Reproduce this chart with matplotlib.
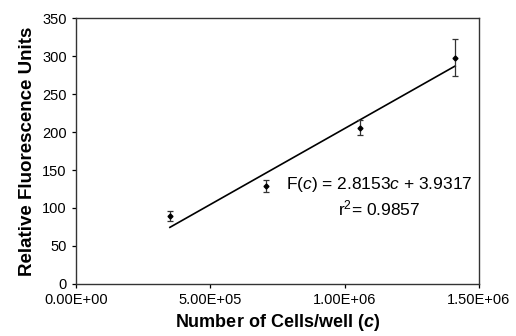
import matplotlib
matplotlib.use("Agg")
import matplotlib.pyplot as plt

cells = [3.50e5, 7.07e5, 1.056e6, 1.412e6]
rfu = [89.5, 129, 205.5, 298]
rfu_err = [6, 8, 10, 24]

# linear trendline endpoints
trend_x = [3.50e5, 1.412e6]
trend_y = [74.5, 287]

xticks = [0, 5e5, 1e6, 1.5e6]
xtick_labels = ["0.00E+00", "5.00E+05", "1.00E+06", "1.50E+06"]
yticks = [0, 50, 100, 150, 200, 250, 300, 350]

plt.rcParams['font.family'] = ['Liberation Sans', 'DejaVu Sans']
plt.rcParams['mathtext.fontset'] = 'custom'
plt.rcParams['mathtext.rm'] = 'Liberation Sans'
plt.rcParams['mathtext.it'] = 'Liberation Sans:italic'
plt.rcParams['mathtext.bf'] = 'Liberation Sans:bold'
plt.rcParams['mathtext.bfit'] = 'Liberation Sans:bold:italic'

fig = plt.figure(figsize=(5.16, 3.36), dpi=100)
ax = fig.add_axes([0.147, 0.155, 0.781, 0.791])

ax.plot(trend_x, trend_y, color='black', linewidth=1.2)
ax.errorbar(cells, rfu, yerr=rfu_err, fmt='D', color='black', markersize=2.5,
            ecolor='#333333', elinewidth=0.9, capsize=2.5, capthick=0.9)

ax.set_xlim(0, 1.5e6)
ax.set_ylim(0, 350)
ax.set_xticks(xticks)
ax.set_xticklabels(xtick_labels)
ax.set_yticks(yticks)
ax.tick_params(direction='out', length=3, width=0.9, labelsize=10.5, colors='black')

for s in ax.spines.values():
    s.set_linewidth(1.0)
    s.set_color('#333333')

ax.set_xlabel("Number of Cells/well ($\\boldsymbol{c}$)", fontsize=13, fontweight='bold')
ax.xaxis.set_label_coords(0.5, -0.105)
ax.set_ylabel("Relative Fluorescence Units", fontsize=13.5, fontweight='bold')
ax.yaxis.set_label_coords(-0.1, 0.5)

ax.text(1.475e6, 131, "F($c$) = 2.8153$c$ + 3.9317", fontsize=12.5, ha='right', va='center')
ax.text(1.13e6, 100, "r$^2$= 0.9857", fontsize=12.5, ha='center', va='center')

fig.savefig("out.png", dpi=100)
